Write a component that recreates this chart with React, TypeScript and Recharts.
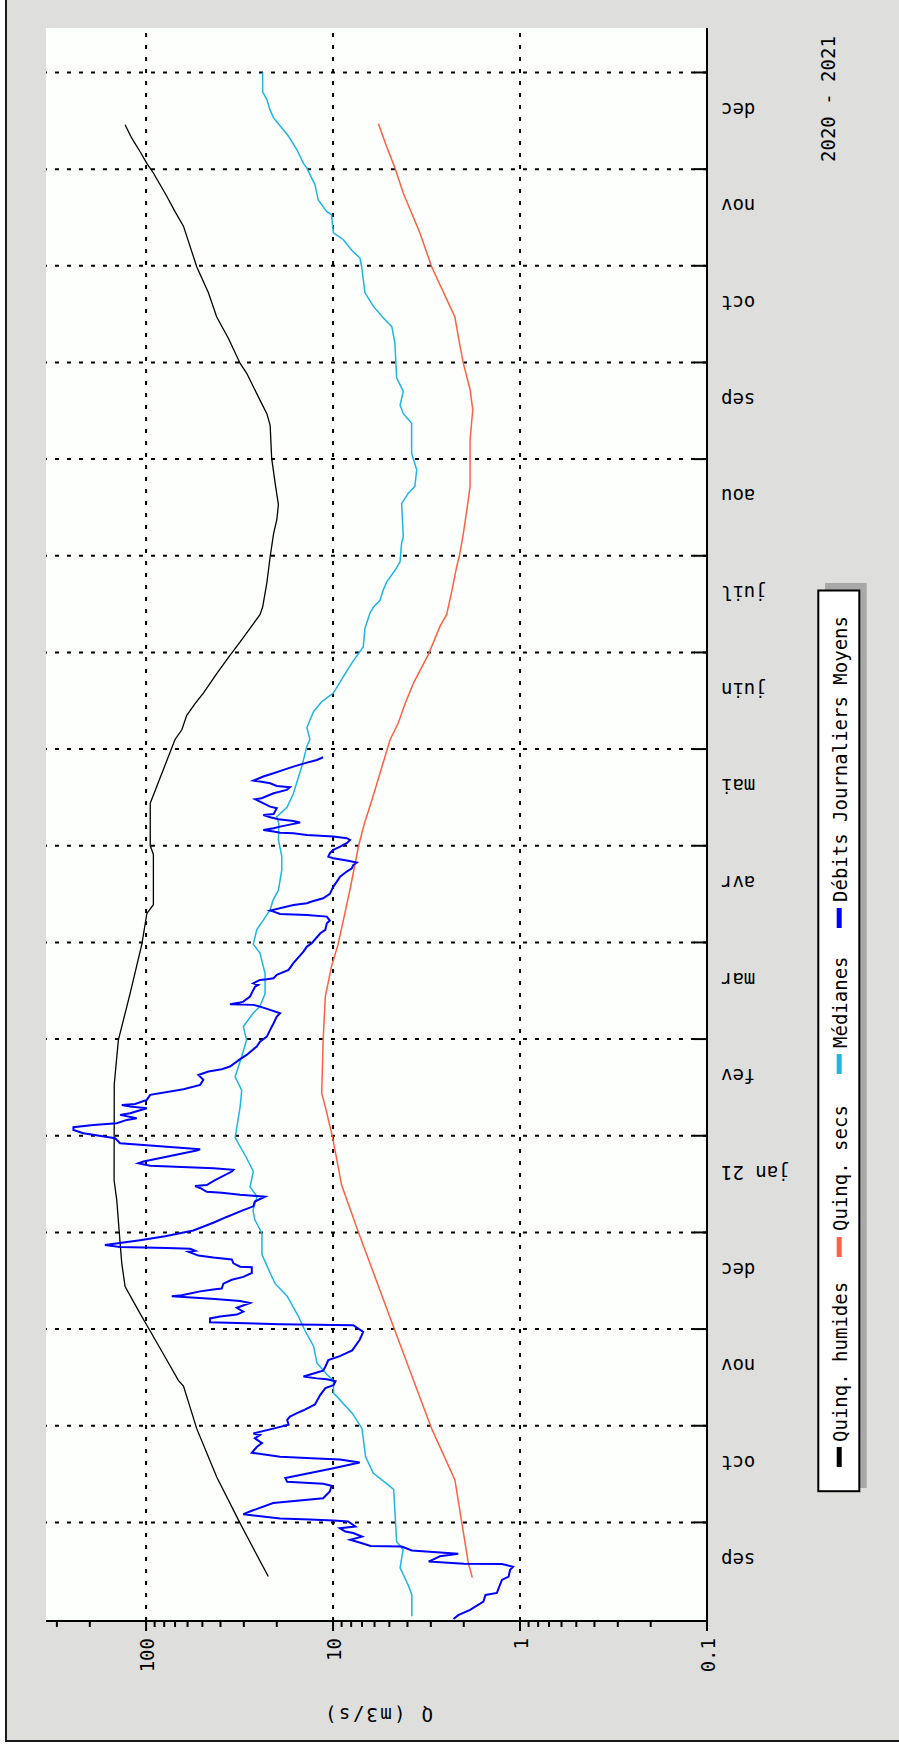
import React from 'react';
import { LineChart, Line, XAxis, YAxis, ReferenceLine, CartesianGrid } from 'recharts';

const FONT = '"DejaVu Sans Mono", monospace';

// time axis: months since 1 Sep 2020
const monthLabels = ['sep', 'oct', 'nov', 'dec', 'jan 21', 'fev', 'mar', 'avr', 'mai', 'juin', 'juil', 'aou', 'sep', 'oct', 'nov', 'dec'];
const monthStarts = [1, 2, 3, 4, 5, 6, 7, 8, 9, 10, 11, 12, 13, 14, 15, 16];
const timeDomain: [number, number] = [-0.02, 16.46];

// Q axis (log)
const qDecades = [0.1, 1, 10, 100];
const qMinor = [0.2, 0.3, 0.4, 0.5, 0.6, 0.7, 0.8, 0.9, 2, 3, 4, 5, 6, 7, 8, 9, 20, 30, 40, 50, 60, 70, 80, 90, 200, 300];
const qDomain: [number, number] = [0.1, 343];

const titleText = '2020 - 2021';
const axisTitle = 'Q (m3/s)';

const legendNames = ['Quinq. humides', 'Quinq. secs', 'Médianes', 'Débits Journaliers Moyens'];
const legendColors = ['#000000', '#ff6040', '#1eb4e6', '#0000ff'];

// [t (months), Q (m3/s)]
const humides: [number, number][] = [
  [0.44, 22.2], [0.99, 31.4], [1.47, 41.9], [1.97, 53.6], [2.41, 63.1], [2.47, 67.2], [2.68, 77.5], [2.98, 95.1],
  [3.16, 107.6], [3.44, 129.5], [3.68, 134.9], [3.89, 137.7], [4.34, 143.6], [4.54, 148.3], [5.53, 148], [5.99, 140.7],
  [6.47, 121.8], [6.98, 105.4], [7.3, 99], [7.39, 91.4], [7.91, 91.4], [8.0, 95], [8.44, 95], [9.1, 70],
  [9.2, 64.4], [9.35, 60.6], [9.47, 54.7], [9.58, 49.4], [9.78, 41.9], [9.97, 35.6], [10.11, 31.4], [10.25, 27.8],
  [10.39, 24.6], [10.47, 23.8], [10.72, 22.6], [10.99, 21.7], [11.23, 20.8], [11.37, 20.0], [11.53, 19.6], [11.75, 20.4],
  [12.01, 21.3], [12.35, 21.7], [12.47, 22.6], [12.61, 24.6], [12.89, 29.0], [12.99, 31.4], [13.25, 36.3], [13.47, 41.9],
  [13.72, 46.4], [13.99, 53.6], [14.41, 63.1], [14.56, 70.0], [14.72, 77.5], [14.96, 91.4], [15.06, 99.1], [15.18, 107.6],
  [15.32, 119.3], [15.46, 129.5],
];

const secs: [number, number][] = [
  [0.43, 1.8], [0.58, 1.89], [1.44, 2.23], [1.97, 2.97], [2.98, 4.66], [4.0, 7.31], [4.49, 9.0], [4.98, 10.05],
  [5.3, 11.0], [5.44, 11.5], [5.99, 11.3], [6.44, 11.0], [6.75, 10.2], [6.98, 9.4], [7.54, 8.13], [8.0, 7.3],
  [8.23, 6.8], [8.47, 6.2], [9.1, 4.95], [9.27, 4.48], [9.47, 4.12], [9.68, 3.72], [9.98, 3.09], [10.27, 2.68],
  [10.39, 2.47], [10.63, 2.32], [10.89, 2.18], [11.0, 2.11], [11.23, 2.01], [11.58, 1.89], [11.72, 1.85], [12.2, 1.85],
  [12.51, 1.79], [12.72, 1.85], [12.99, 2.01], [13.27, 2.14], [13.47, 2.23], [13.58, 2.37], [13.99, 2.97], [14.34, 3.43],
  [14.75, 4.21], [15.01, 4.66], [15.23, 5.16], [15.47, 5.72],
];

const medianes: [number, number][] = [
  [0.03, 3.79], [0.25, 3.79], [0.35, 3.96], [0.53, 4.38], [0.72, 4.22], [0.8, 4.57], [1.34, 4.74], [1.37, 4.94],
  [1.51, 6.1], [1.68, 6.7], [1.97, 7.0], [2.13, 7.9], [2.34, 9.95], [2.47, 9.95], [2.53, 10.8], [2.65, 12.2],
  [2.82, 12.7], [2.98, 14.1], [3.13, 15.3], [3.34, 17.6], [3.47, 20.4], [3.58, 21.7], [3.77, 24.0], [3.99, 24.0],
  [4.13, 26.2], [4.23, 26.8], [4.37, 25.5], [4.47, 27.8], [4.63, 26.7], [4.77, 29.0], [4.98, 33.4], [5.3, 31.4],
  [5.47, 30.8], [5.61, 33.4], [5.82, 30.8], [5.99, 29.0], [6.13, 30.2], [6.27, 26.7], [6.34, 24.6], [6.47, 23.1],
  [6.68, 23.1], [6.89, 24.6], [6.98, 26.7], [7.13, 25.6], [7.23, 23.6], [7.34, 21.7], [7.44, 20.9], [7.54, 19.6],
  [7.75, 18.8], [7.89, 18.8], [8.06, 19.6], [8.23, 19.5], [8.3, 20.0], [8.4, 17.6], [8.54, 16.3], [8.82, 14.7],
  [9.03, 13.8], [9.1, 13.3], [9.22, 13.8], [9.27, 13.5], [9.39, 12.7], [9.49, 11.5], [9.53, 10.8], [9.58, 9.96],
  [9.75, 8.81], [9.89, 7.94], [10.06, 6.89], [10.25, 6.75], [10.41, 6.34], [10.47, 6.08], [10.54, 5.61], [10.65, 5.38],
  [10.73, 5.16], [10.85, 4.66], [10.94, 4.38], [11.13, 4.3], [11.2, 4.21], [11.54, 4.3], [11.65, 3.95], [11.72, 3.65],
  [11.89, 3.57], [12.06, 3.8], [12.37, 3.8], [12.47, 4.21], [12.56, 4.38], [12.7, 4.21], [12.84, 4.57], [13.2, 4.67],
  [13.37, 4.85], [13.46, 5.38], [13.58, 6.08], [13.72, 6.75], [13.99, 7.03], [14.08, 7.18], [14.16, 7.94], [14.27, 8.81],
  [14.34, 9.96], [14.53, 10.2], [14.56, 10.8], [14.68, 12.0], [14.84, 12.5], [15.01, 13.8], [15.06, 14.4], [15.2, 15.6],
  [15.34, 17.3], [15.47, 19.6], [15.53, 20.8], [15.61, 21.7], [15.72, 22.6], [15.8, 23.8], [16.0, 23.8],
];

const debits: [number, number][] = [
  [0.0, 2.27], [0.04, 2.14], [0.095, 1.85], [0.18, 1.57], [0.25, 1.53], [0.27, 1.33], [0.405, 1.25], [0.44, 1.15],
  [0.51, 1.13], [0.54, 1.09], [0.57, 1.25], [0.572, 2.0], [0.595, 3.08], [0.65, 2.68], [0.675, 2.14], [0.71, 3.79],
  [0.75, 4.3], [0.757, 6.3], [0.785, 7.0], [0.82, 8.1], [0.853, 7.0], [0.89, 7.8], [0.905, 8.6], [0.94, 9.2],
  [0.957, 7.6], [1.01, 8.3], [1.02, 9.95], [1.03, 13.3], [1.04, 19.2], [1.085, 30.2], [1.12, 27.2], [1.2, 20.9],
  [1.25, 11.3], [1.32, 10.4], [1.38, 10.2], [1.4, 11.3], [1.42, 17.6], [1.46, 18.0], [1.56, 9.95], [1.62, 7.2],
  [1.65, 9.2], [1.66, 12.2], [1.68, 19.2], [1.72, 27.2], [1.78, 25.6], [1.82, 24.0], [1.87, 26.2], [1.905, 24.6],
  [1.92, 26.7], [1.97, 20.9], [2.01, 17.3], [2.06, 17.6], [2.095, 17.0], [2.13, 15.6], [2.16, 14.4], [2.22, 12.5],
  [2.32, 11.7], [2.39, 11.0], [2.42, 9.95], [2.46, 9.7], [2.48, 10.8], [2.49, 12.2], [2.51, 14.4], [2.55, 12.2],
  [2.57, 11.3], [2.61, 11.0], [2.68, 10.6], [2.72, 9.2], [2.78, 7.9], [2.89, 7.2], [2.97, 6.9], [3.04, 7.8],
  [3.05, 19.2], [3.07, 45.5], [3.11, 45.5], [3.13, 40.2], [3.15, 32.7], [3.18, 30.2], [3.22, 32.7], [3.27, 27.8],
  [3.29, 31.4], [3.31, 42.8], [3.34, 72.9], [3.35, 64.5], [3.39, 51.4], [3.41, 43.7], [3.42, 39.4], [3.47, 38.6],
  [3.51, 34.8], [3.54, 30.2], [3.58, 27.2], [3.64, 27.2], [3.645, 31.4], [3.68, 34.1], [3.72, 34.8], [3.74, 43.7],
  [3.76, 52.5], [3.8, 59.4], [3.81, 54.7], [3.83, 58.1], [3.84, 77.5], [3.85, 138], [3.87, 166], [3.92, 107.7],
  [3.96, 79.1], [4.02, 55.9], [4.1, 43.7], [4.16, 37.1], [4.23, 30.2], [4.27, 26.7], [4.32, 26.2], [4.37, 23.1],
  [4.39, 31.4], [4.41, 39.4], [4.42, 47.4], [4.46, 51.4], [4.48, 54.7], [4.49, 47.4], [4.54, 42.8], [4.63, 34.8],
  [4.647, 34.1], [4.664, 43.6], [4.69, 95.1], [4.716, 109.9], [4.733, 103.3], [4.847, 53.6], [4.86, 51.4], [4.871, 60.6],
  [4.895, 87.6], [4.923, 137.7], [4.974, 146.5], [5.026, 216.4], [5.06, 244.7], [5.088, 244.7], [5.112, 191.5], [5.129, 143.6],
  [5.164, 126.8], [5.181, 112.2], [5.216, 137.7], [5.233, 121.8], [5.285, 99.1], [5.302, 121.8], [5.319, 134.9], [5.329, 114.5],
  [5.371, 99.1], [5.423, 95.1], [5.481, 63.1], [5.526, 51.4], [5.578, 49.4], [5.629, 52.5], [5.664, 46.4], [5.688, 39.4],
  [5.716, 35.6], [5.792, 31.4], [5.836, 29.0], [5.923, 25.6], [5.974, 24.6], [6.026, 22.6], [6.095, 21.7], [6.164, 20.8],
  [6.233, 20.0], [6.267, 19.2], [6.302, 21.7], [6.336, 24.6], [6.354, 26.7], [6.36, 35.6], [6.378, 31.4], [6.388, 30.2],
  [6.44, 27.8], [6.509, 26.7], [6.543, 26.1], [6.56, 25.1], [6.578, 26.7], [6.612, 24.6], [6.619, 22.6], [6.629, 20.8],
  [6.664, 20.0], [6.716, 17.3], [6.785, 16.3], [6.905, 14.4], [6.957, 13.8], [6.992, 13.0], [7.095, 11.7], [7.13, 11.0],
  [7.198, 10.8], [7.226, 10.4], [7.267, 10.8], [7.285, 13.8], [7.295, 19.2], [7.319, 20.8], [7.33, 21.7], [7.388, 16.3],
  [7.405, 13.8], [7.423, 13.0], [7.457, 11.3], [7.502, 10.4], [7.578, 9.96], [7.629, 9.55], [7.681, 9.17], [7.733, 8.45],
  [7.767, 7.94], [7.802, 7.78], [7.826, 7.47], [7.847, 8.45], [7.871, 9.96], [7.888, 10.6], [7.923, 10.4], [7.957, 9.96],
  [7.992, 9.17], [8.026, 8.45], [8.06, 8.11], [8.078, 8.45], [8.095, 9.96], [8.112, 13.8], [8.129, 16.3], [8.135, 19.2],
  [8.147, 20.8], [8.164, 23.6], [8.181, 20.8], [8.198, 19.2], [8.216, 17.3], [8.24, 15.0], [8.257, 16.3], [8.274, 19.6],
  [8.295, 21.7], [8.319, 23.6], [8.329, 20.8], [8.388, 20.0], [8.405, 21.7], [8.457, 24.6], [8.481, 26.1], [8.492, 24.1],
  [8.543, 20.8], [8.578, 17.7], [8.605, 17.0], [8.619, 20.0], [8.647, 21.7], [8.664, 24.6], [8.674, 26.7], [8.716, 23.6],
  [8.75, 20.8], [8.785, 18.4], [8.819, 16.3], [8.86, 13.8], [8.888, 12.2], [8.916, 11.3],
];

const toRows = (pts: [number, number][]) => pts.map(([t, q]) => ({ t, q }));

const timeTicks: number[] = [];
monthLabels.forEach((_, i) => timeTicks.push(i + 0.5));
monthStarts.forEach((m) => timeTicks.push(m));
timeTicks.sort((a, b) => a - b);

const qTicks = [...qDecades, ...qMinor].sort((a, b) => a - b);

const QTick = (props: any) => {
  const { x, y, payload } = props;
  const v = payload.value;
  const major = qDecades.includes(v);
  const lx = x + 8;
  const ly = y + 17;
  return (
    <g>
      <line x1={x} x2={x} y1={y} y2={y + (major ? 10 : 6)} stroke="#000" strokeWidth={2} />
      {major && (
        <text x={lx} y={ly} transform={`rotate(-90 ${lx} ${ly})`} textAnchor="end" fontFamily={FONT} fontSize={19} fill="#000">
          {String(v)}
        </text>
      )}
    </g>
  );
};

const TTick = (props: any) => {
  const { x, y, payload } = props;
  const v = payload.value;
  if (Number.isInteger(v)) {
    return <line x1={x - 13} x2={x} y1={y} y2={y} stroke="#000" strokeWidth={2} />;
  }
  const label = monthLabels[Math.floor(v)];
  const lx = x + 14;
  const ly = y - 18;
  return (
    <text x={lx} y={ly} transform={`rotate(180 ${lx} ${ly})`} textAnchor="end" fontFamily={FONT} fontSize={19} fill="#000">
      {label}
    </text>
  );
};

// legend layout along the rotated (vertical) direction
const legendMarkerStart = [1467, 1257, 1074, 928];
const legendTextStart = [1442, 1231, 1048, 902];

export default function App() {
  return (
    <div style={{ position: 'absolute', left: 0, top: 0, width: 899, height: 1749, background: '#ffffff', overflow: 'hidden' }}>
      <svg width={899} height={1749} style={{ position: 'absolute', left: 0, top: 0 }}>
        <rect x={6} y={-10} width={910} height={1751} fill="#dededc" stroke="#1a1a1a" strokeWidth={2} />
      </svg>
      <div style={{ position: 'absolute', left: 0, top: 0 }}>
        <LineChart layout="vertical" width={899} height={1749} margin={{ top: 28, right: 0, bottom: 0, left: 46 }}>
          <CartesianGrid fill="#fdfffd" horizontal={false} vertical={false} stroke="none" />
          <XAxis
            type="number"
            dataKey="q"
            scale="log"
            domain={qDomain}
            allowDataOverflow
            reversed
            ticks={qTicks}
            interval={0}
            tick={<QTick />}
            tickLine={false}
            tickSize={0}
            tickMargin={0}
            axisLine={{ stroke: '#000', strokeWidth: 2 }}
            height={128}
          />
          <YAxis
            type="number"
            dataKey="t"
            orientation="right"
            domain={timeDomain}
            allowDataOverflow
            reversed
            ticks={timeTicks}
            interval={0}
            tick={<TTick />}
            tickLine={false}
            tickSize={0}
            tickMargin={0}
            axisLine={{ stroke: '#000', strokeWidth: 2 }}
            width={192}
          />
          {monthStarts.map((m) => (
            <ReferenceLine key={'h' + m} y={m} stroke="#000" strokeWidth={2} strokeDasharray="4 8" />
          ))}
          {qDecades.slice(1).map((d) => (
            <ReferenceLine key={'v' + d} x={d} stroke="#000" strokeWidth={2} strokeDasharray="4 8" />
          ))}
          <Line data={toRows(humides)} dataKey="q" type="linear" stroke={legendColors[0]} strokeWidth={1.3} dot={false} activeDot={false} isAnimationActive={false} />
          <Line data={toRows(secs)} dataKey="q" type="linear" stroke={legendColors[1]} strokeWidth={1.5} dot={false} activeDot={false} isAnimationActive={false} />
          <Line data={toRows(medianes)} dataKey="q" type="linear" stroke={legendColors[2]} strokeWidth={1.5} dot={false} activeDot={false} isAnimationActive={false} />
          <Line data={toRows(debits)} dataKey="q" type="linear" stroke={legendColors[3]} strokeWidth={2} dot={false} activeDot={false} isAnimationActive={false} />
        </LineChart>
      </div>
      <svg width={899} height={1749} style={{ position: 'absolute', left: 0, top: 0, pointerEvents: 'none' }}>
        <text x={835} y={162} transform="rotate(-90 835 162)" fontFamily={FONT} fontSize={19} fill="#000">
          {titleText}
        </text>
        <text x={379} y={1708} transform="rotate(180 379 1708)" textAnchor="middle" fontFamily={FONT} fontSize={19} fill="#000" textLength={108}>
          {axisTitle}
        </text>
        <rect x={825} y={583} width={41.7} height={905} fill="#a8a8a8" />
        <rect x={818.3} y={590.5} width={41} height={900.7} fill="#ffffff" stroke="#000" strokeWidth={2} />
        {legendNames.map((name, i) => (
          <g key={name}>
            <rect x={836.7} y={legendMarkerStart[i] - 20} width={5} height={20} fill={legendColors[i]} />
            <text
              x={847}
              y={legendTextStart[i]}
              transform={`rotate(-90 847 ${legendTextStart[i]})`}
              fontFamily={FONT}
              fontSize={19}
              fill="#000"
            >
              {name}
            </text>
          </g>
        ))}
      </svg>
    </div>
  );
}
